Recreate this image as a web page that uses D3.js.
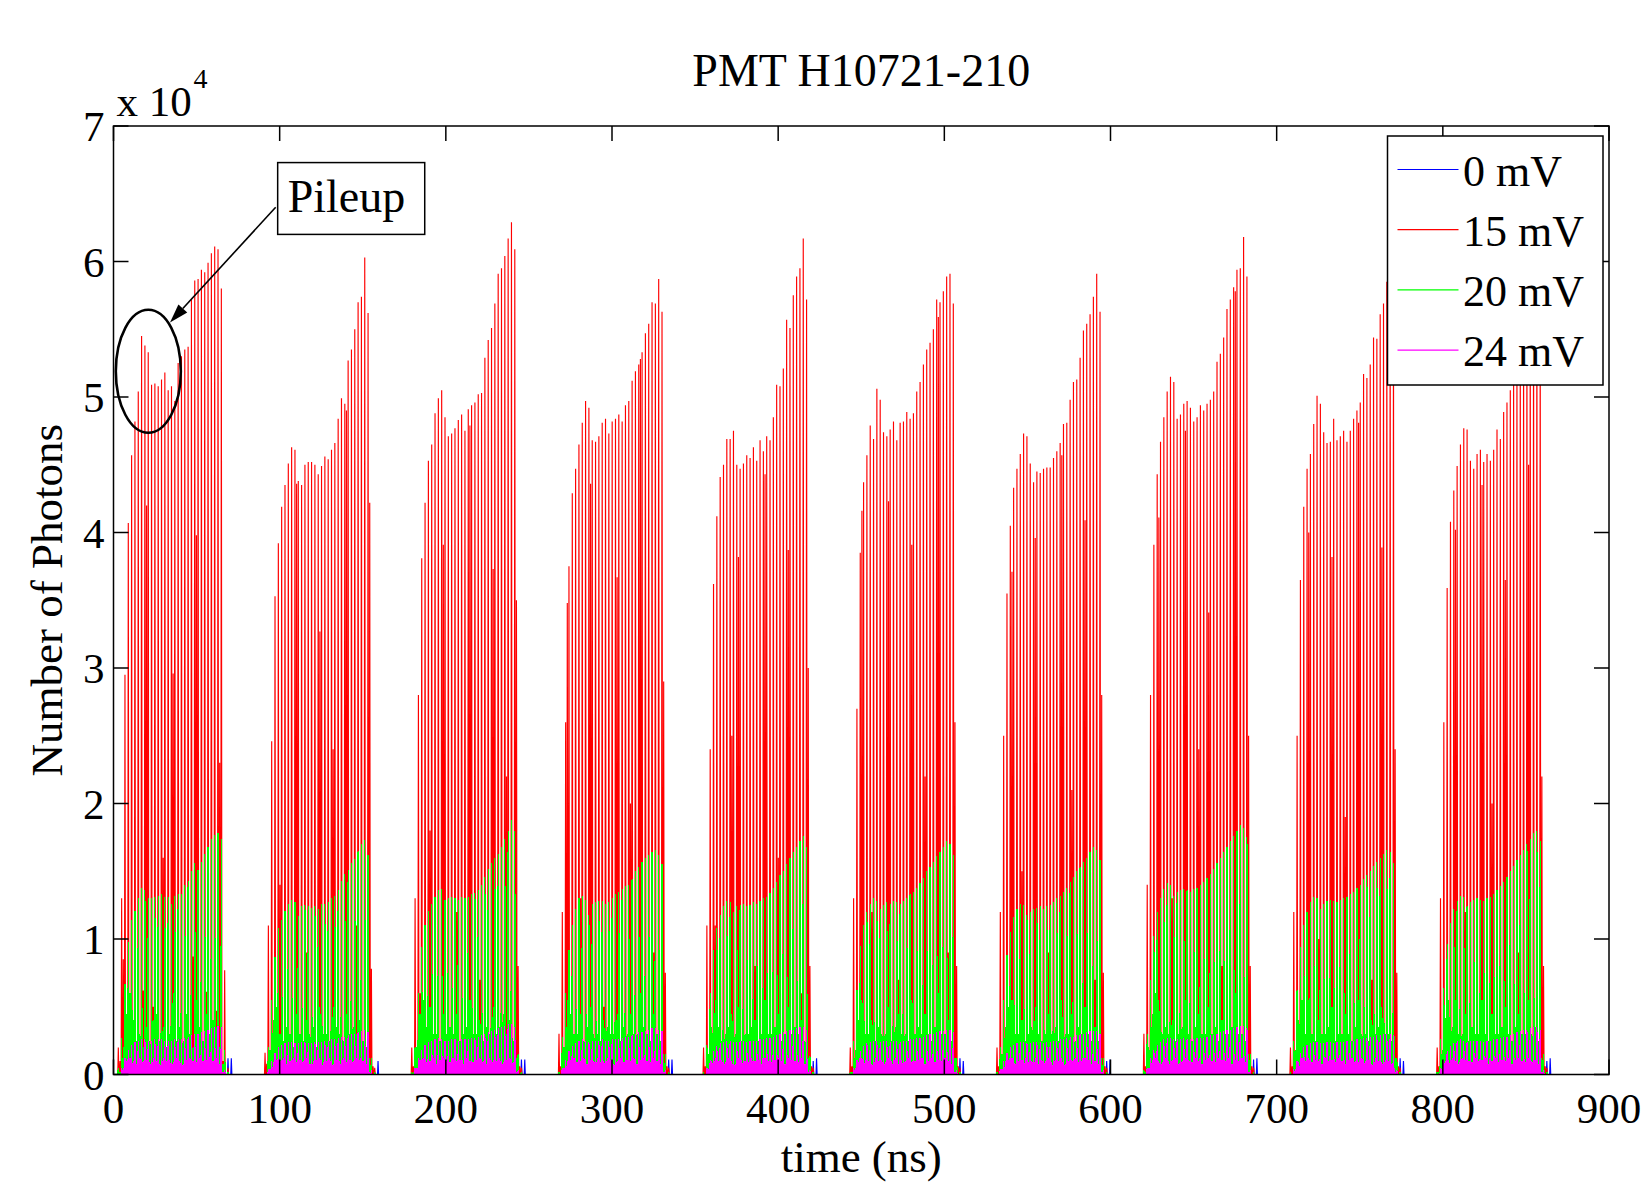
<!DOCTYPE html>
<html><head><meta charset="utf-8">
<script src="https://cdn.jsdelivr.net/npm/d3@7"></script>
<style>
body{margin:0;background:#fff}
svg{display:block}
text{font-family:"Liberation Serif","Times New Roman",serif;fill:#000}
</style>
</head><body>
<svg id="chart" width="1648" height="1188"></svg>
<script>
// ---------------- data (photon counts in units of 1e4) ----------------
const title = "PMT H10721-210";
const xLabel = "time (ns)";
const yLabel = "Number of Photons";
const yExpBase = "x 10";
const yExp = "4";
const xTicks = [0,100,200,300,400,500,600,700,800,900];
const yTicks = [0,1,2,3,4,5,6,7];
const seriesNames = ["0 mV","15 mV","20 mV","24 mV"];
const seriesColors = ["#0000ff","#ff0000","#00ff00","#ff00ff"];
const annotationText = "Pileup";
const bunchSpacing = 2; // ns between bunches
const trainStart = [2.9, 91.2, 179.5, 268.1, 355.1, 443.4, 531.7, 620.1, 708.3, 796.6];

// 15 mV : peak value of every bunch in each train
const red15 = [
 [0.2,1.3,2.95,4.07,4.57,4.82,5.04,5.45,5.38,5.33,5.09,5.10,5.08,5.13,5.18,5.05,5.08,4.97,5.25,5.30,5.35,5.37,5.72,5.86,5.87,5.94,5.92,5.99,6.06,6.11,6.09,5.80,0.77,0.05],
 [0.16,1.1,2.46,3.53,3.92,4.19,4.35,4.51,4.63,4.61,4.38,4.35,4.50,4.52,4.52,4.50,4.43,4.49,4.56,4.54,4.61,4.66,4.84,4.99,4.95,5.27,5.35,5.50,5.70,5.74,6.03,5.62,0.78,0.05],
 [0.2,1.3,2.8,3.81,4.22,4.53,4.65,4.88,4.99,5.05,4.85,4.71,4.73,4.77,4.83,4.87,4.75,4.91,4.94,4.96,5.02,5.03,5.29,5.42,5.51,5.69,5.91,5.95,6.04,6.17,6.29,6.09,0.8,0.05],
 [0.3,1.2,2.6,3.75,4.29,4.47,4.65,4.81,4.97,4.92,4.68,4.67,4.71,4.81,4.84,4.73,4.82,4.84,4.87,4.82,4.94,4.97,5.12,5.19,5.24,5.33,5.47,5.54,5.70,5.69,5.87,5.63,0.75,0.05],
 [0.2,1.1,2.4,3.62,4.12,4.41,4.50,4.69,4.69,4.75,4.50,4.47,4.51,4.57,4.55,4.63,4.53,4.68,4.60,4.71,4.68,4.85,5.09,5.08,5.21,5.57,5.51,5.75,5.89,5.95,6.17,5.72,0.8,0.05],
 [0.2,1.3,2.7,3.85,4.37,4.57,4.79,4.69,5.06,4.98,4.74,4.71,4.76,4.82,4.68,4.81,4.82,4.89,4.84,4.88,5.04,5.11,5.24,5.35,5.40,5.50,5.72,5.70,5.78,5.89,5.91,5.69,0.8,0.05],
 [0.2,1.2,2.5,3.55,4.05,4.33,4.47,4.58,4.73,4.71,4.51,4.37,4.45,4.44,4.47,4.48,4.48,4.55,4.60,4.66,4.80,4.81,4.98,5.11,5.13,5.29,5.49,5.54,5.61,5.74,5.91,5.63,0.75,0.05],
 [0.3,1.4,2.8,3.91,4.43,4.67,4.85,5.04,5.15,5.11,4.84,4.87,4.95,4.97,4.92,4.82,4.85,4.94,4.90,4.95,4.98,5.04,5.26,5.32,5.44,5.65,5.72,5.81,5.94,5.95,6.18,5.89,0.8,0.05],
 [0.2,1.2,2.5,3.65,4.19,4.47,4.58,4.80,5.01,4.95,4.74,4.66,4.67,4.84,4.68,4.71,4.75,4.67,4.75,4.84,4.90,4.96,5.17,5.14,5.24,5.44,5.43,5.61,5.69,5.85,5.95,5.70,0.75,0.05],
 [0.2,1.3,2.6,3.59,4.08,4.31,4.49,4.65,4.77,4.76,4.53,4.47,4.58,4.61,4.52,4.58,4.53,4.61,4.76,4.69,4.89,4.96,5.05,5.15,5.25,5.40,5.50,5.60,5.75,5.90,5.95,5.70,0.8,0.05]
];
// 15 mV : pulses found half-way between bunches
const red15Mid = [
 [0.1,0.85,0.06,0.1,0.06,0.08,0.06,0.62,4.2,0.06,0.5,0.06,0.08,1.6,0.06,0.08,2.96,0.06,0.1,0.06,0.08,0.06,0.87,3.98,0.06,0.08,0.61,0.06,0.08,0.47,2.3,0.1,0],
 [0.08,0.1,0.06,0.4,1.4,0.06,0.08,0.06,0.1,4.36,0.06,0.08,0.9,0.06,0.1,0.06,3.27,0.06,0.08,0.06,2.4,0.06,0.08,0.06,4.9,0.06,0.1,1.1,0.06,0.08,0.06,4.22,0.06],
 [0.06,0.12,0.6,0.06,0.08,1.8,0.06,0.1,0.06,3.91,0.06,0.08,0.06,1.2,0.06,0.1,0.06,4.79,0.06,0.08,0.7,0.06,0.1,0.06,3.73,0.06,0.08,0.06,2.2,0.06,0.1,3.5,0.06],
 [0.06,0.1,3.48,0.06,0.08,0.06,1.3,0.1,0.06,4.36,0.06,0.08,0.06,0.5,0.1,0.06,0.08,3.67,0.06,0.1,0.06,2.0,0.08,0.06,5.28,0.06,0.1,0.06,0.9,0.06,0.08,2.9,0.06],
 [0.06,0.1,0.06,1.1,0.08,0.06,0.1,0.06,2.5,0.08,3.82,0.06,0.1,0.06,0.08,0.8,0.06,0.1,4.43,0.06,0.08,0.06,1.6,0.1,0.06,3.87,0.06,0.08,0.06,0.6,0.1,3.0,0.06],
 [0.06,0.1,0.06,4.16,0.08,0.06,1.2,0.06,0.1,0.06,0.08,4.23,0.06,0.1,0.7,0.06,0.08,0.06,3.91,0.06,0.1,0.06,2.2,0.08,0.06,0.1,5.59,0.06,0.08,0.9,0.06,2.6,0.06],
 [0.06,0.1,0.06,0.08,3.71,0.06,0.1,1.5,0.06,0.08,0.06,3.96,0.06,0.1,0.06,0.9,0.08,0.06,0.1,4.57,0.06,0.08,2.1,0.06,0.1,0.06,4.09,0.06,0.08,0.7,0.06,2.8,0.06],
 [0.06,0.1,0.06,0.08,4.11,0.06,0.1,0.06,1.3,0.08,0.06,0.1,4.75,0.06,0.08,0.06,2.4,0.1,0.06,3.41,0.06,0.08,0.06,0.8,0.1,0.06,0.08,5.78,0.06,0.1,0.06,2.5,0.06],
 [0.06,0.1,0.06,0.08,0.06,4.0,0.1,0.06,1.0,0.08,0.06,0.1,3.82,0.06,0.08,0.06,1.9,0.1,0.06,0.08,4.81,0.06,0.1,0.06,0.7,0.08,0.06,3.89,0.06,0.1,0.06,2.4,0.06],
 [0.06,0.1,0.06,0.08,0.06,4.02,0.1,0.06,1.2,0.08,0.06,0.1,0.06,4.35,0.08,0.06,2.0,0.1,0.06,0.08,3.65,0.06,0.1,0.06,0.9,0.08,0.06,4.5,0.06,0.1,0.06,2.2,0.06]
];
// 20 mV
const green20 = [
 [0.05,0.27,0.67,0.98,1.14,1.21,1.30,1.38,1.36,1.30,1.30,1.31,1.32,1.33,1.31,1.31,1.26,1.32,1.33,1.33,1.40,1.43,1.50,1.56,1.51,1.57,1.63,1.68,1.74,1.77,1.78,1.74,0.18,0.02],
 [0.0,0.2,0.55,0.87,1.08,1.14,1.21,1.26,1.29,1.27,1.17,1.24,1.25,1.24,1.23,1.24,1.22,1.26,1.26,1.27,1.30,1.32,1.36,1.43,1.48,1.51,1.56,1.59,1.65,1.70,1.73,1.62,0.12,0.02],
 [0.02,0.2,0.6,0.94,1.10,1.21,1.26,1.31,1.36,1.37,1.29,1.30,1.31,1.30,1.29,1.31,1.30,1.31,1.33,1.34,1.36,1.40,1.46,1.52,1.56,1.60,1.63,1.68,1.74,1.80,1.88,1.80,0.15,0.02],
 [0.02,0.28,0.6,0.92,1.10,1.22,1.30,1.32,1.29,1.18,1.26,1.27,1.28,1.28,1.26,1.27,1.30,1.33,1.35,1.37,1.39,1.40,1.44,1.50,1.53,1.57,1.60,1.62,1.64,1.66,1.62,1.55,0.15,0.02],
 [0.02,0.22,0.6,0.92,1.08,1.18,1.24,1.28,1.27,1.20,1.24,1.25,1.26,1.24,1.25,1.27,1.26,1.28,1.30,1.31,1.34,1.38,1.42,1.47,1.50,1.55,1.60,1.64,1.68,1.72,1.76,1.68,0.14,0.02],
 [0.02,0.25,0.62,0.95,1.10,1.20,1.26,1.30,1.28,1.22,1.25,1.27,1.26,1.28,1.27,1.26,1.28,1.30,1.33,1.35,1.38,1.41,1.45,1.50,1.53,1.57,1.61,1.64,1.68,1.72,1.70,1.62,0.12,0.02],
 [0.02,0.2,0.55,0.88,1.05,1.16,1.22,1.26,1.25,1.18,1.20,1.22,1.23,1.24,1.22,1.24,1.25,1.27,1.30,1.32,1.35,1.38,1.42,1.46,1.50,1.53,1.57,1.60,1.64,1.68,1.66,1.58,0.12,0.02],
 [0.03,0.3,0.7,1.02,1.20,1.30,1.37,1.41,1.40,1.32,1.35,1.36,1.37,1.36,1.35,1.37,1.38,1.40,1.42,1.45,1.48,1.52,1.56,1.60,1.64,1.68,1.72,1.76,1.80,1.84,1.82,1.75,0.15,0.02],
 [0.02,0.25,0.62,0.94,1.10,1.20,1.27,1.31,1.30,1.22,1.26,1.28,1.29,1.28,1.27,1.29,1.30,1.31,1.33,1.35,1.38,1.40,1.44,1.47,1.50,1.54,1.57,1.60,1.63,1.66,1.64,1.56,0.12,0.02],
 [0.02,0.26,0.64,0.96,1.12,1.22,1.28,1.32,1.31,1.24,1.27,1.29,1.30,1.29,1.28,1.30,1.31,1.33,1.36,1.39,1.42,1.46,1.50,1.54,1.58,1.62,1.66,1.70,1.74,1.78,1.80,1.72,0.15,0.02]
];
const green20Mid = [
 [0.02,0.2,0.45,0.6,0.4,0.25,0.3,0.2,0.35,0.25,0.4,0.45,0.25,0.35,0.2,0.3,0.6,0.25,0.35,0.25,0.45,0.3,0.2,0.55,0.35,0.25,0.45,0.3,0.4,0.35,0.2,0.08,0],
 [0,0.18,0.4,0.5,0.3,0.25,0.35,0.3,0.2,0.45,0.3,0.25,0.4,0.3,0.35,0.2,0.5,0.3,0.3,0.25,0.5,0.35,0.3,0.25,0.45,0.3,0.35,0.3,0.4,0.25,0.2,0.12,0],
 [0.02,0.2,0.45,0.55,0.35,0.5,0.3,0.3,0.25,0.45,0.3,0.35,0.3,0.45,0.25,0.3,0.35,0.55,0.3,0.3,0.4,0.25,0.35,0.3,0.5,0.3,0.35,0.45,0.3,0.4,0.25,0.12,0],
 [0,0.2,0.55,0.45,0.3,0.3,0.45,0.25,0.35,0.5,0.3,0.3,0.25,0.4,0.35,0.3,0.3,0.45,0.25,0.35,0.3,0.45,0.3,0.3,0.6,0.35,0.3,0.25,0.45,0.3,0.25,0.15,0],
 [0,0.15,0.35,0.55,0.35,0.25,0.3,0.35,0.45,0.3,0.5,0.25,0.3,0.3,0.35,0.4,0.25,0.3,0.55,0.3,0.3,0.35,0.45,0.25,0.3,0.5,0.3,0.35,0.3,0.4,0.25,0.12,0],
 [0.02,0.18,0.4,0.55,0.3,0.3,0.4,0.25,0.35,0.3,0.3,0.5,0.25,0.35,0.45,0.3,0.3,0.25,0.55,0.3,0.35,0.3,0.45,0.3,0.25,0.35,0.6,0.3,0.3,0.4,0.25,0.12,0],
 [0,0.15,0.35,0.5,0.55,0.3,0.3,0.4,0.25,0.3,0.35,0.5,0.3,0.25,0.3,0.45,0.3,0.35,0.25,0.55,0.3,0.3,0.45,0.25,0.35,0.3,0.5,0.3,0.25,0.35,0.25,0.12,0],
 [0.02,0.2,0.45,0.6,0.55,0.3,0.35,0.3,0.4,0.25,0.3,0.35,0.55,0.3,0.25,0.35,0.45,0.3,0.3,0.5,0.3,0.35,0.25,0.4,0.3,0.3,0.35,0.6,0.3,0.3,0.25,0.15,0],
 [0,0.18,0.4,0.55,0.3,0.55,0.3,0.25,0.4,0.3,0.3,0.35,0.5,0.25,0.3,0.3,0.45,0.3,0.25,0.35,0.55,0.3,0.3,0.25,0.4,0.3,0.35,0.5,0.3,0.3,0.25,0.12,0],
 [0.02,0.18,0.42,0.55,0.35,0.55,0.3,0.3,0.45,0.25,0.35,0.3,0.3,0.55,0.3,0.25,0.45,0.3,0.3,0.35,0.5,0.3,0.25,0.35,0.45,0.3,0.3,0.55,0.3,0.35,0.25,0.12,0]
];
// 24 mV
const magenta24 = [
 [0,0.05,0.12,0.18,0.22,0.24,0.25,0.26,0.26,0.25,0.25,0.26,0.26,0.26,0.25,0.25,0.25,0.26,0.26,0.26,0.27,0.28,0.29,0.30,0.30,0.31,0.32,0.33,0.34,0.35,0.36,0.35,0.03,0],
 [0,0.04,0.10,0.16,0.20,0.22,0.23,0.24,0.24,0.23,0.23,0.24,0.24,0.23,0.23,0.24,0.24,0.24,0.25,0.25,0.26,0.26,0.27,0.28,0.28,0.29,0.30,0.30,0.31,0.32,0.33,0.31,0.03,0],
 [0,0.05,0.12,0.18,0.22,0.24,0.25,0.26,0.27,0.26,0.25,0.25,0.26,0.26,0.25,0.26,0.26,0.26,0.27,0.27,0.28,0.29,0.30,0.31,0.32,0.33,0.34,0.35,0.36,0.37,0.37,0.35,0.03,0],
 [0,0.05,0.11,0.17,0.21,0.23,0.25,0.26,0.25,0.24,0.25,0.25,0.25,0.26,0.25,0.25,0.26,0.26,0.26,0.27,0.28,0.28,0.29,0.30,0.31,0.31,0.32,0.33,0.34,0.34,0.33,0.32,0.03,0],
 [0,0.05,0.11,0.17,0.21,0.23,0.24,0.25,0.25,0.24,0.24,0.25,0.25,0.24,0.25,0.25,0.25,0.26,0.26,0.27,0.27,0.28,0.29,0.30,0.31,0.32,0.33,0.33,0.34,0.35,0.35,0.33,0.03,0],
 [0,0.05,0.11,0.17,0.21,0.23,0.24,0.25,0.25,0.24,0.25,0.25,0.24,0.25,0.25,0.24,0.25,0.25,0.26,0.26,0.27,0.27,0.28,0.29,0.30,0.30,0.31,0.32,0.32,0.33,0.33,0.31,0.03,0],
 [0,0.04,0.10,0.16,0.20,0.22,0.23,0.24,0.24,0.23,0.23,0.24,0.24,0.24,0.23,0.24,0.24,0.25,0.25,0.26,0.26,0.27,0.28,0.28,0.29,0.30,0.30,0.31,0.32,0.32,0.32,0.30,0.03,0],
 [0,0.05,0.12,0.18,0.22,0.24,0.26,0.27,0.27,0.26,0.26,0.26,0.27,0.26,0.26,0.26,0.27,0.27,0.27,0.28,0.29,0.29,0.30,0.31,0.32,0.33,0.33,0.34,0.35,0.36,0.36,0.34,0.03,0],
 [0,0.04,0.10,0.16,0.20,0.22,0.23,0.24,0.24,0.23,0.23,0.24,0.24,0.23,0.24,0.24,0.24,0.25,0.25,0.25,0.26,0.26,0.27,0.27,0.28,0.28,0.29,0.29,0.30,0.30,0.30,0.29,0.03,0],
 [0,0.05,0.11,0.17,0.21,0.23,0.25,0.26,0.25,0.24,0.25,0.25,0.25,0.25,0.24,0.25,0.25,0.26,0.26,0.27,0.28,0.28,0.29,0.30,0.31,0.32,0.33,0.33,0.34,0.35,0.35,0.33,0.03,0]
];
const magenta24Mid = [
 [0,0.05,0.10,0.12,0.10,0.08,0.12,0.10,0.11,0.09,0.12,0.10,0.08,0.12,0.10,0.11,0.09,0.12,0.10,0.08,0.11,0.12,0.10,0.09,0.12,0.10,0.11,0.13,0.10,0.12,0.08,0.02,0],
 [0,0.04,0.09,0.11,0.10,0.12,0.08,0.10,0.12,0.09,0.11,0.10,0.12,0.08,0.10,0.11,0.12,0.09,0.10,0.12,0.08,0.11,0.10,0.12,0.09,0.11,0.10,0.12,0.11,0.10,0.08,0.02,0],
 [0,0.05,0.11,0.12,0.09,0.10,0.12,0.08,0.11,0.12,0.10,0.09,0.12,0.10,0.11,0.08,0.12,0.10,0.09,0.11,0.12,0.10,0.08,0.12,0.11,0.10,0.12,0.09,0.11,0.12,0.09,0.02,0],
 [0,0.05,0.10,0.11,0.12,0.09,0.10,0.12,0.08,0.11,0.10,0.12,0.09,0.10,0.12,0.11,0.08,0.10,0.12,0.09,0.11,0.10,0.12,0.08,0.11,0.12,0.10,0.09,0.12,0.10,0.08,0.02,0],
 [0,0.04,0.10,0.12,0.10,0.11,0.09,0.12,0.10,0.08,0.12,0.11,0.10,0.09,0.12,0.10,0.11,0.08,0.12,0.10,0.09,0.11,0.12,0.10,0.08,0.12,0.11,0.10,0.09,0.12,0.08,0.02,0],
 [0,0.05,0.09,0.12,0.11,0.10,0.08,0.12,0.10,0.11,0.09,0.12,0.10,0.12,0.08,0.11,0.10,0.12,0.09,0.10,0.11,0.12,0.08,0.10,0.12,0.09,0.11,0.10,0.12,0.10,0.08,0.02,0],
 [0,0.04,0.10,0.11,0.12,0.08,0.10,0.11,0.12,0.09,0.10,0.12,0.08,0.11,0.10,0.12,0.09,0.11,0.10,0.12,0.08,0.10,0.11,0.12,0.09,0.10,0.12,0.11,0.08,0.10,0.08,0.02,0],
 [0,0.05,0.11,0.12,0.10,0.09,0.12,0.10,0.11,0.12,0.08,0.10,0.12,0.11,0.09,0.12,0.10,0.08,0.11,0.12,0.10,0.09,0.12,0.11,0.10,0.12,0.08,0.11,0.10,0.12,0.09,0.02,0],
 [0,0.04,0.09,0.12,0.10,0.12,0.09,0.11,0.10,0.08,0.12,0.10,0.11,0.09,0.12,0.10,0.08,0.11,0.12,0.10,0.09,0.12,0.10,0.11,0.08,0.12,0.10,0.09,0.11,0.10,0.08,0.02,0],
 [0,0.05,0.10,0.11,0.12,0.10,0.08,0.12,0.11,0.10,0.09,0.12,0.10,0.11,0.12,0.08,0.10,0.12,0.09,0.11,0.10,0.12,0.08,0.11,0.12,0.10,0.09,0.12,0.10,0.11,0.08,0.02,0]
];
// 0 mV : only two small pulses just after the end of each train (bunch slots 33, 34)
const blueFirstSlot = 33;
const blue0 = [[0.12,0.12],[0.02,0.10],[0.11,0.11],[0.11,0.11],[0.10,0.12],[0.12,0.10],[0.10,0.11],[0.11,0.12],[0.12,0.10],[0.10,0.12]];

// annotation anchored in data coordinates (ns, 1e4 photons)
const pileupEllipse = {t:20.95, v:5.19};
const pileupArrow = {fromT:97.6, fromV:6.40, toT:34.0, toV:5.55};
const pileupBox = {t0:98.8, t1:187.3, v0:6.73, v1:6.20};

// ---------------- layout ----------------
const plot = {left:113.5, right:1609, top:126, bottom:1074.5};
const svg = d3.select("#chart");
const x = d3.scaleLinear().domain([0,900]).range([plot.left, plot.right]);
const y = d3.scaleLinear().domain([0,7]).range([plot.bottom, plot.top]);
const halfWidth = 0.33; // ns, half width of a drawn pulse
const seriesRendering = ["auto","auto","crispEdges","crispEdges"];

svg.append("defs").append("clipPath").attr("id","clip")
  .append("rect").attr("x",plot.left).attr("y",plot.top)
  .attr("width",plot.right-plot.left).attr("height",plot.bottom-plot.top);

function buildPulses(mainArr, midArr, firstSlot){
  const pts = [];
  trainStart.forEach((s,k)=>{
    mainArr[k].forEach((v,i)=>pts.push([s+(i+firstSlot)*bunchSpacing, v]));
    if(midArr) midArr[k].forEach((v,i)=>{ if(v>0) pts.push([s+i*bunchSpacing+bunchSpacing/2, v]); });
  });
  pts.sort((a,b)=>a[0]-b[0]);
  const out = [[0,0]];
  pts.forEach(([t,v])=>{ out.push([t-halfWidth,0],[t,v],[t+halfWidth,0]); });
  out.push([900,0]);
  return out;
}
const line = d3.line().x(d=>x(d[0])).y(d=>y(d[1]));
const seriesData = [
  buildPulses(blue0, null, blueFirstSlot),
  buildPulses(red15, red15Mid, 0),
  buildPulses(green20, green20Mid, 0),
  buildPulses(magenta24, magenta24Mid, 0)
];

svg.append("rect").attr("x",plot.left).attr("y",plot.top)
  .attr("width",plot.right-plot.left).attr("height",plot.bottom-plot.top)
  .attr("fill","#fff").attr("stroke","none");

const gData = svg.append("g").attr("clip-path","url(#clip)");
seriesData.forEach((d,i)=>{
  gData.append("path").attr("d",line(d)).attr("fill","none")
    .attr("stroke",seriesColors[i]).attr("stroke-width",1.15)
    .attr("stroke-linejoin","miter").attr("shape-rendering",seriesRendering[i]);
});

const tickLen = 15;
const axisW = 1.5;
const gAx = svg.append("g");
gAx.append("rect").attr("x",plot.left).attr("y",plot.top)
  .attr("width",plot.right-plot.left).attr("height",plot.bottom-plot.top)
  .attr("fill","none").attr("stroke","#000").attr("stroke-width",axisW);
xTicks.forEach(t=>{
  gAx.append("line").attr("x1",x(t)).attr("x2",x(t)).attr("y1",plot.bottom).attr("y2",plot.bottom-tickLen).attr("stroke","#000").attr("stroke-width",axisW);
  gAx.append("line").attr("x1",x(t)).attr("x2",x(t)).attr("y1",plot.top).attr("y2",plot.top+tickLen).attr("stroke","#000").attr("stroke-width",axisW);
  gAx.append("text").attr("x",x(t)).attr("y",plot.bottom+48).attr("text-anchor","middle")
    .attr("font-size",43).text(t);
});
yTicks.forEach(v=>{
  gAx.append("line").attr("x1",plot.left).attr("x2",plot.left+tickLen).attr("y1",y(v)).attr("y2",y(v)).attr("stroke","#000").attr("stroke-width",axisW);
  gAx.append("line").attr("x1",plot.right).attr("x2",plot.right-tickLen).attr("y1",y(v)).attr("y2",y(v)).attr("stroke","#000").attr("stroke-width",axisW);
  gAx.append("text").attr("x",plot.left-9).attr("y",y(v)+15).attr("text-anchor","end")
    .attr("font-size",43).text(v);
});
// exponent
gAx.append("text").attr("x",plot.left+3).attr("y",plot.top-10).attr("font-size",43).text(yExpBase);
gAx.append("text").attr("x",plot.left+80).attr("y",plot.top-38).attr("font-size",28).text(yExp);

// titles
svg.append("text").attr("x",(plot.left+plot.right)/2).attr("y",86).attr("text-anchor","middle")
  .attr("font-size",46).text(title);
svg.append("text").attr("x",(plot.left+plot.right)/2).attr("y",1172).attr("text-anchor","middle")
  .attr("font-size",45).text(xLabel);
svg.append("text").attr("transform",`translate(62,${(plot.top+plot.bottom)/2}) rotate(-90)`)
  .attr("text-anchor","middle").attr("font-size",45).text(yLabel);

// legend
const lg = svg.append("g");
const lgBox = {x:1387.5, y:136, w:215.5, h:249};
lg.append("rect").attr("x",lgBox.x).attr("y",lgBox.y).attr("width",lgBox.w).attr("height",lgBox.h)
  .attr("fill","#fff").attr("stroke","#000").attr("stroke-width",axisW);
seriesNames.forEach((n,i)=>{
  const cy = 169.5 + i*60.2;
  lg.append("line").attr("x1",1397.5).attr("x2",1458.5).attr("y1",cy).attr("y2",cy)
    .attr("stroke",seriesColors[i]).attr("stroke-width",1.2);
  lg.append("text").attr("x",1463).attr("y",cy+16).attr("font-size",44).text(n);
});

// pileup annotation
const an = svg.append("g");
an.append("ellipse").attr("cx",x(pileupEllipse.t)).attr("cy",y(pileupEllipse.v))
  .attr("rx",32.5).attr("ry",61.5).attr("fill","none").attr("stroke","#000").attr("stroke-width",2.6);
const ax1=x(pileupArrow.fromT), ay1=y(pileupArrow.fromV), ax2=x(pileupArrow.toT), ay2=y(pileupArrow.toV);
const ang = Math.atan2(ay2-ay1, ax2-ax1);
const headL = 19, headW = 6;
const bx = ax2 - headL*Math.cos(ang), by = ay2 - headL*Math.sin(ang);
an.append("line").attr("x1",ax1).attr("y1",ay1).attr("x2",bx).attr("y2",by).attr("stroke","#000").attr("stroke-width",1.6);
an.append("path").attr("d",`M${ax2},${ay2}L${bx - headW*Math.sin(ang)},${by + headW*Math.cos(ang)}L${bx + headW*Math.sin(ang)},${by - headW*Math.cos(ang)}Z`)
  .attr("fill","#000");
an.append("rect").attr("x",x(pileupBox.t0)).attr("y",y(pileupBox.v0))
  .attr("width",x(pileupBox.t1)-x(pileupBox.t0)).attr("height",y(pileupBox.v1)-y(pileupBox.v0))
  .attr("fill","none").attr("stroke","#000").attr("stroke-width",1.5);
an.append("text").attr("x",x(pileupBox.t0)+10).attr("y",y(pileupBox.v0)+49).attr("font-size",46).text(annotationText);
</script>
</body></html>
